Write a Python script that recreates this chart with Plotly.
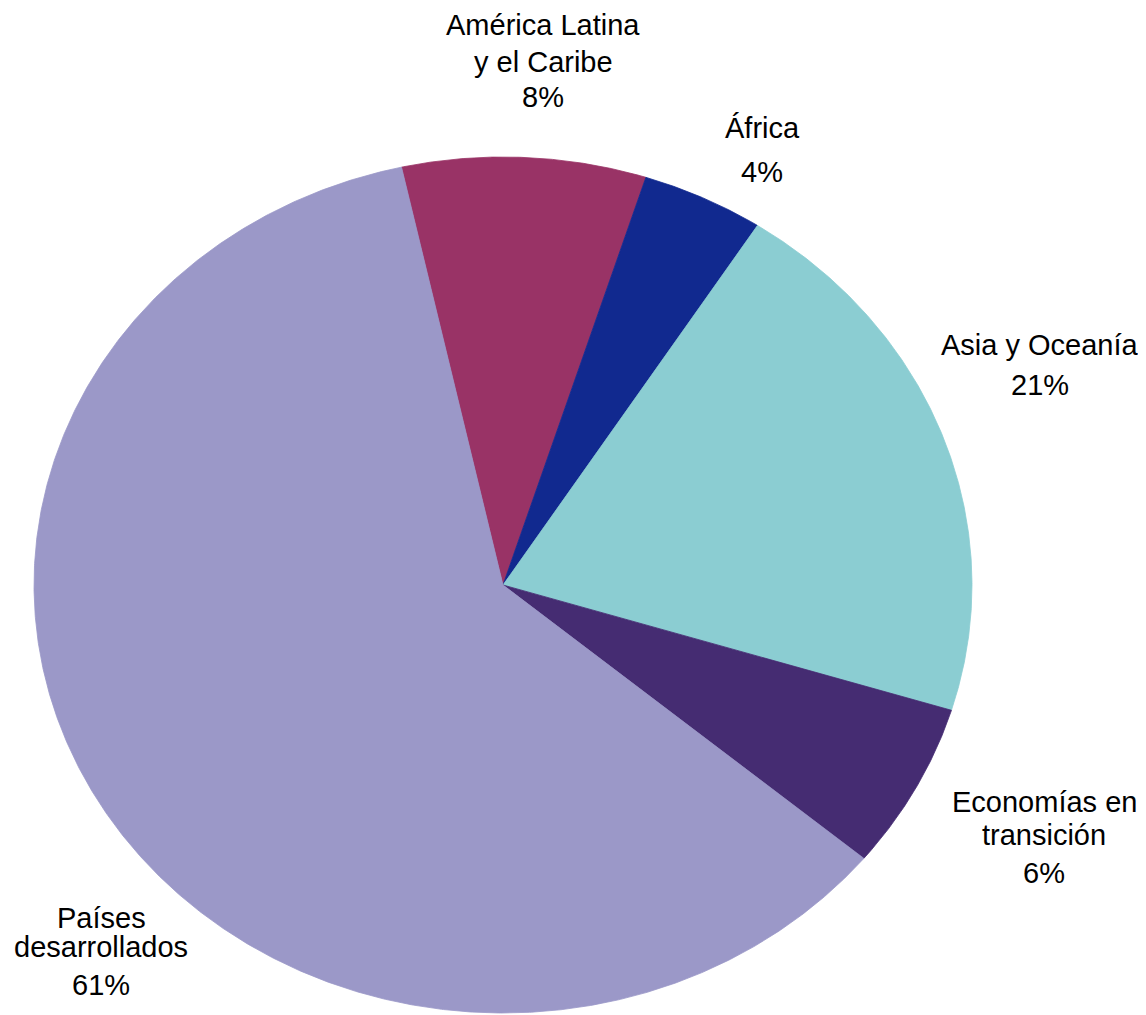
import math
import numpy as np
import plotly.graph_objects as go

# Data (clockwise order starting from the Países / América boundary)
categories = ["América Latina<br>y el Caribe", "África", "Asia y Oceanía",
              "Economías en<br>transición", "Países<br>desarrollados"]
values = [8.4, 4.2, 20.6, 6.3, 60.5]
colors = ["#993366", "#11298F", "#8BCDD2", "#452C72", "#9B98C8"]

# Geometry (pixel space of the page)
W, H = 1146, 1015
OFF = 8  # page body margin
cx, cy, rx, ry = 503, 585, 469, 428
start_deg = -12.5

# label positions: (x center, [baselines of name lines], pct baseline)
label_pos = [
    (543, [35, 72], 107),
    (762, [138], 182),
    (1040, [355], 395),
    (1044, [812, 845], 883),
    (101, [928, 957], 995),
]

fig = go.Figure()
total = sum(values)
ang = start_deg
for cat, v, col in zip(categories, values, colors):
    a0 = ang
    a1 = ang + v / total * 360.0
    t = np.radians(np.linspace(a0, a1, max(int((a1 - a0) * 4), 8)))
    xs = np.concatenate([[cx], cx + rx * np.sin(t), [cx]])
    ys = np.concatenate([[cy], cy - ry * np.cos(t), [cy]])
    fig.add_trace(go.Scatter(x=xs, y=ys, mode="lines", fill="toself",
                             fillcolor=col, line=dict(color=col, width=0.8),
                             hoverinfo="skip", showlegend=False))
    ang = a1

font = dict(family="Liberation Sans, Arial, sans-serif", size=29, color="#000000")
for cat, v, (lx, lines_y, py) in zip(categories, values, label_pos):
    for line, by in zip(cat.split("<br>"), lines_y):
        fig.add_annotation(x=lx, y=by - 10, text=line, showarrow=False,
                           xanchor="center", yanchor="middle", font=font)
    fig.add_annotation(x=lx, y=py - 10, text=f"{math.floor(v + 0.5):d}%",
                       showarrow=False, xanchor="center", yanchor="middle",
                       font=font)

fig.update_xaxes(range=[OFF, W + OFF], visible=False, fixedrange=True)
fig.update_yaxes(range=[H + OFF, OFF], visible=False, fixedrange=True)
fig.update_layout(width=W, height=H, margin=dict(l=0, r=0, t=0, b=0),
                  paper_bgcolor="white", plot_bgcolor="white")

fig.write_html("out.html")
